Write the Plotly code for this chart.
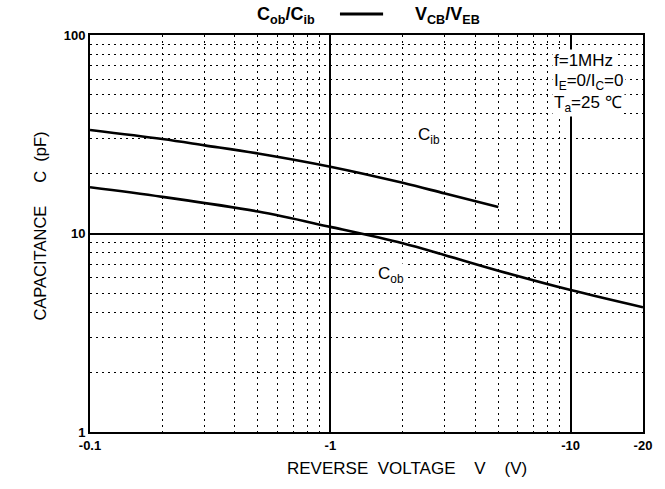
import math
import plotly.graph_objects as go

# ---- data ----
cib_voltage = [0.1, 0.2, 0.3, 0.5, 1, 2, 3, 5]
cib_capacitance = [33.2, 29.9, 27.8, 25.3, 21.7, 18.0, 15.9, 13.6]

cob_voltage = [0.1, 0.2, 0.5, 1, 2, 3, 5, 10, 20]
cob_capacitance = [17.1, 15.3, 12.9, 10.8, 8.93, 7.78, 6.5, 5.19, 4.25]

x_tickvals = [0.1, 1, 10, 20]
x_ticktext = ["-0.1", "-1", "-10", "-20"]
x_minor = [0.2, 0.3, 0.4, 0.5, 0.6, 0.7, 0.8, 0.9, 2, 3, 4, 5, 6, 7, 8, 9]
y_tickvals = [1, 10, 100]
y_ticktext = ["1", "10", "100"]
y_minor = [2, 3, 4, 5, 6, 7, 8, 9, 20, 30, 40, 50, 60, 70, 80, 90]

# curve label positions (data units)
cib_label_pos = (2.58, 31.0)
cob_label_pos = (1.79, 6.18)

FONT = "Liberation Sans, Arial, sans-serif"
NB = "\u00a0"

fig = go.Figure()
fig.add_trace(go.Scatter(x=cib_voltage, y=cib_capacitance, mode="lines",
                         line=dict(color="black", width=2.6, shape="spline", smoothing=1.0),
                         showlegend=False, hoverinfo="skip"))
fig.add_trace(go.Scatter(x=cob_voltage, y=cob_capacitance, mode="lines",
                         line=dict(color="black", width=2.6, shape="spline", smoothing=1.0),
                         showlegend=False, hoverinfo="skip"))

# curve labels (log axes -> annotation coords in log10 units)
fig.add_annotation(x=math.log10(cib_label_pos[0]), y=math.log10(cib_label_pos[1]),
                   xref="x", yref="y", showarrow=False,
                   text="C<sub>ib</sub>", bgcolor="white", borderpad=0,
                   font=dict(family=FONT, size=17, color="black"))
fig.add_annotation(x=math.log10(cob_label_pos[0]), y=math.log10(cob_label_pos[1]),
                   xref="x", yref="y", showarrow=False,
                   text="C<sub>ob</sub>", bgcolor="white", borderpad=0,
                   font=dict(family=FONT, size=17, color="black"))

# legend-like title
fig.add_annotation(x=0.354, y=1.048, xref="paper", yref="paper", showarrow=False,
                   yanchor="middle",
                   text="<b>C<sub>ob</sub>/C<sub>ib</sub></b>",
                   font=dict(family=FONT, size=18, color="black"))
fig.add_shape(type="line", xref="paper", yref="paper", x0=0.452, x1=0.530,
              y0=1.053, y1=1.053, line=dict(color="black", width=3))
fig.add_annotation(x=0.647, y=1.048, xref="paper", yref="paper", showarrow=False,
                   yanchor="middle",
                   text="<b>V<sub>CB</sub>/V<sub>EB</sub></b>",
                   font=dict(family=FONT, size=18, color="black"))

# conditions box
cond = ["f=1MHz", "I<sub>E</sub>=0/I<sub>C</sub>=0", "T<sub>a</sub>=25" + NB + "\u2103"]
cond_y = [0.937, 0.882, 0.826]
for t, yy in zip(cond, cond_y):
    fig.add_annotation(x=0.835, y=yy, xref="paper", yref="paper", showarrow=False,
                       xanchor="left", yanchor="middle", text=t,
                       bgcolor="white", borderpad=1,
                       font=dict(family=FONT, size=17, color="black"))

# axis titles
fig.add_annotation(x=-0.090, y=0.518, xref="paper", yref="paper", showarrow=False,
                   textangle=-90, xanchor="center", yanchor="middle",
                   text="CAPACITANCE" + NB * 5 + "C" + NB * 2 + "(pF)",
                   font=dict(family=FONT, size=16.5, color="black"))
fig.add_annotation(x=0.573, y=-0.0907, xref="paper", yref="paper", showarrow=False,
                   xanchor="center", yanchor="middle",
                   text="REVERSE" + NB * 2 + "VOLTAGE" + NB * 4 + "V" + NB * 4 + "(V)",
                   font=dict(family=FONT, size=17, color="black"))

fig.update_xaxes(type="log", range=[-1, 1.30103], tickvals=x_tickvals, ticktext=x_ticktext,
                 showgrid=True, gridcolor="black", gridwidth=1.5,
                 showline=True, linecolor="black", linewidth=2, mirror=True,
                 ticks="", zeroline=False,
                 tickfont=dict(family=FONT, size=13, color="black", weight="bold"),
                 minor=dict(tickvals=x_minor, showgrid=True, gridcolor="black",
                            gridwidth=1.2, griddash="2px,4px", ticks=""))
fig.update_yaxes(type="log", range=[0, 2], tickvals=y_tickvals, ticktext=y_ticktext,
                 showgrid=True, gridcolor="black", gridwidth=1.5,
                 showline=True, linecolor="black", linewidth=2, mirror=True,
                 ticks="", zeroline=False,
                 tickfont=dict(family=FONT, size=13, color="black", weight="bold"),
                 minor=dict(tickvals=y_minor, showgrid=True, gridcolor="black",
                            gridwidth=1.2, griddash="2px,4px", ticks=""))

fig.update_layout(width=665, height=489, margin=dict(l=90, r=22, t=35, b=57),
                  paper_bgcolor="white", plot_bgcolor="white", showlegend=False)

fig.write_html("out.html")
